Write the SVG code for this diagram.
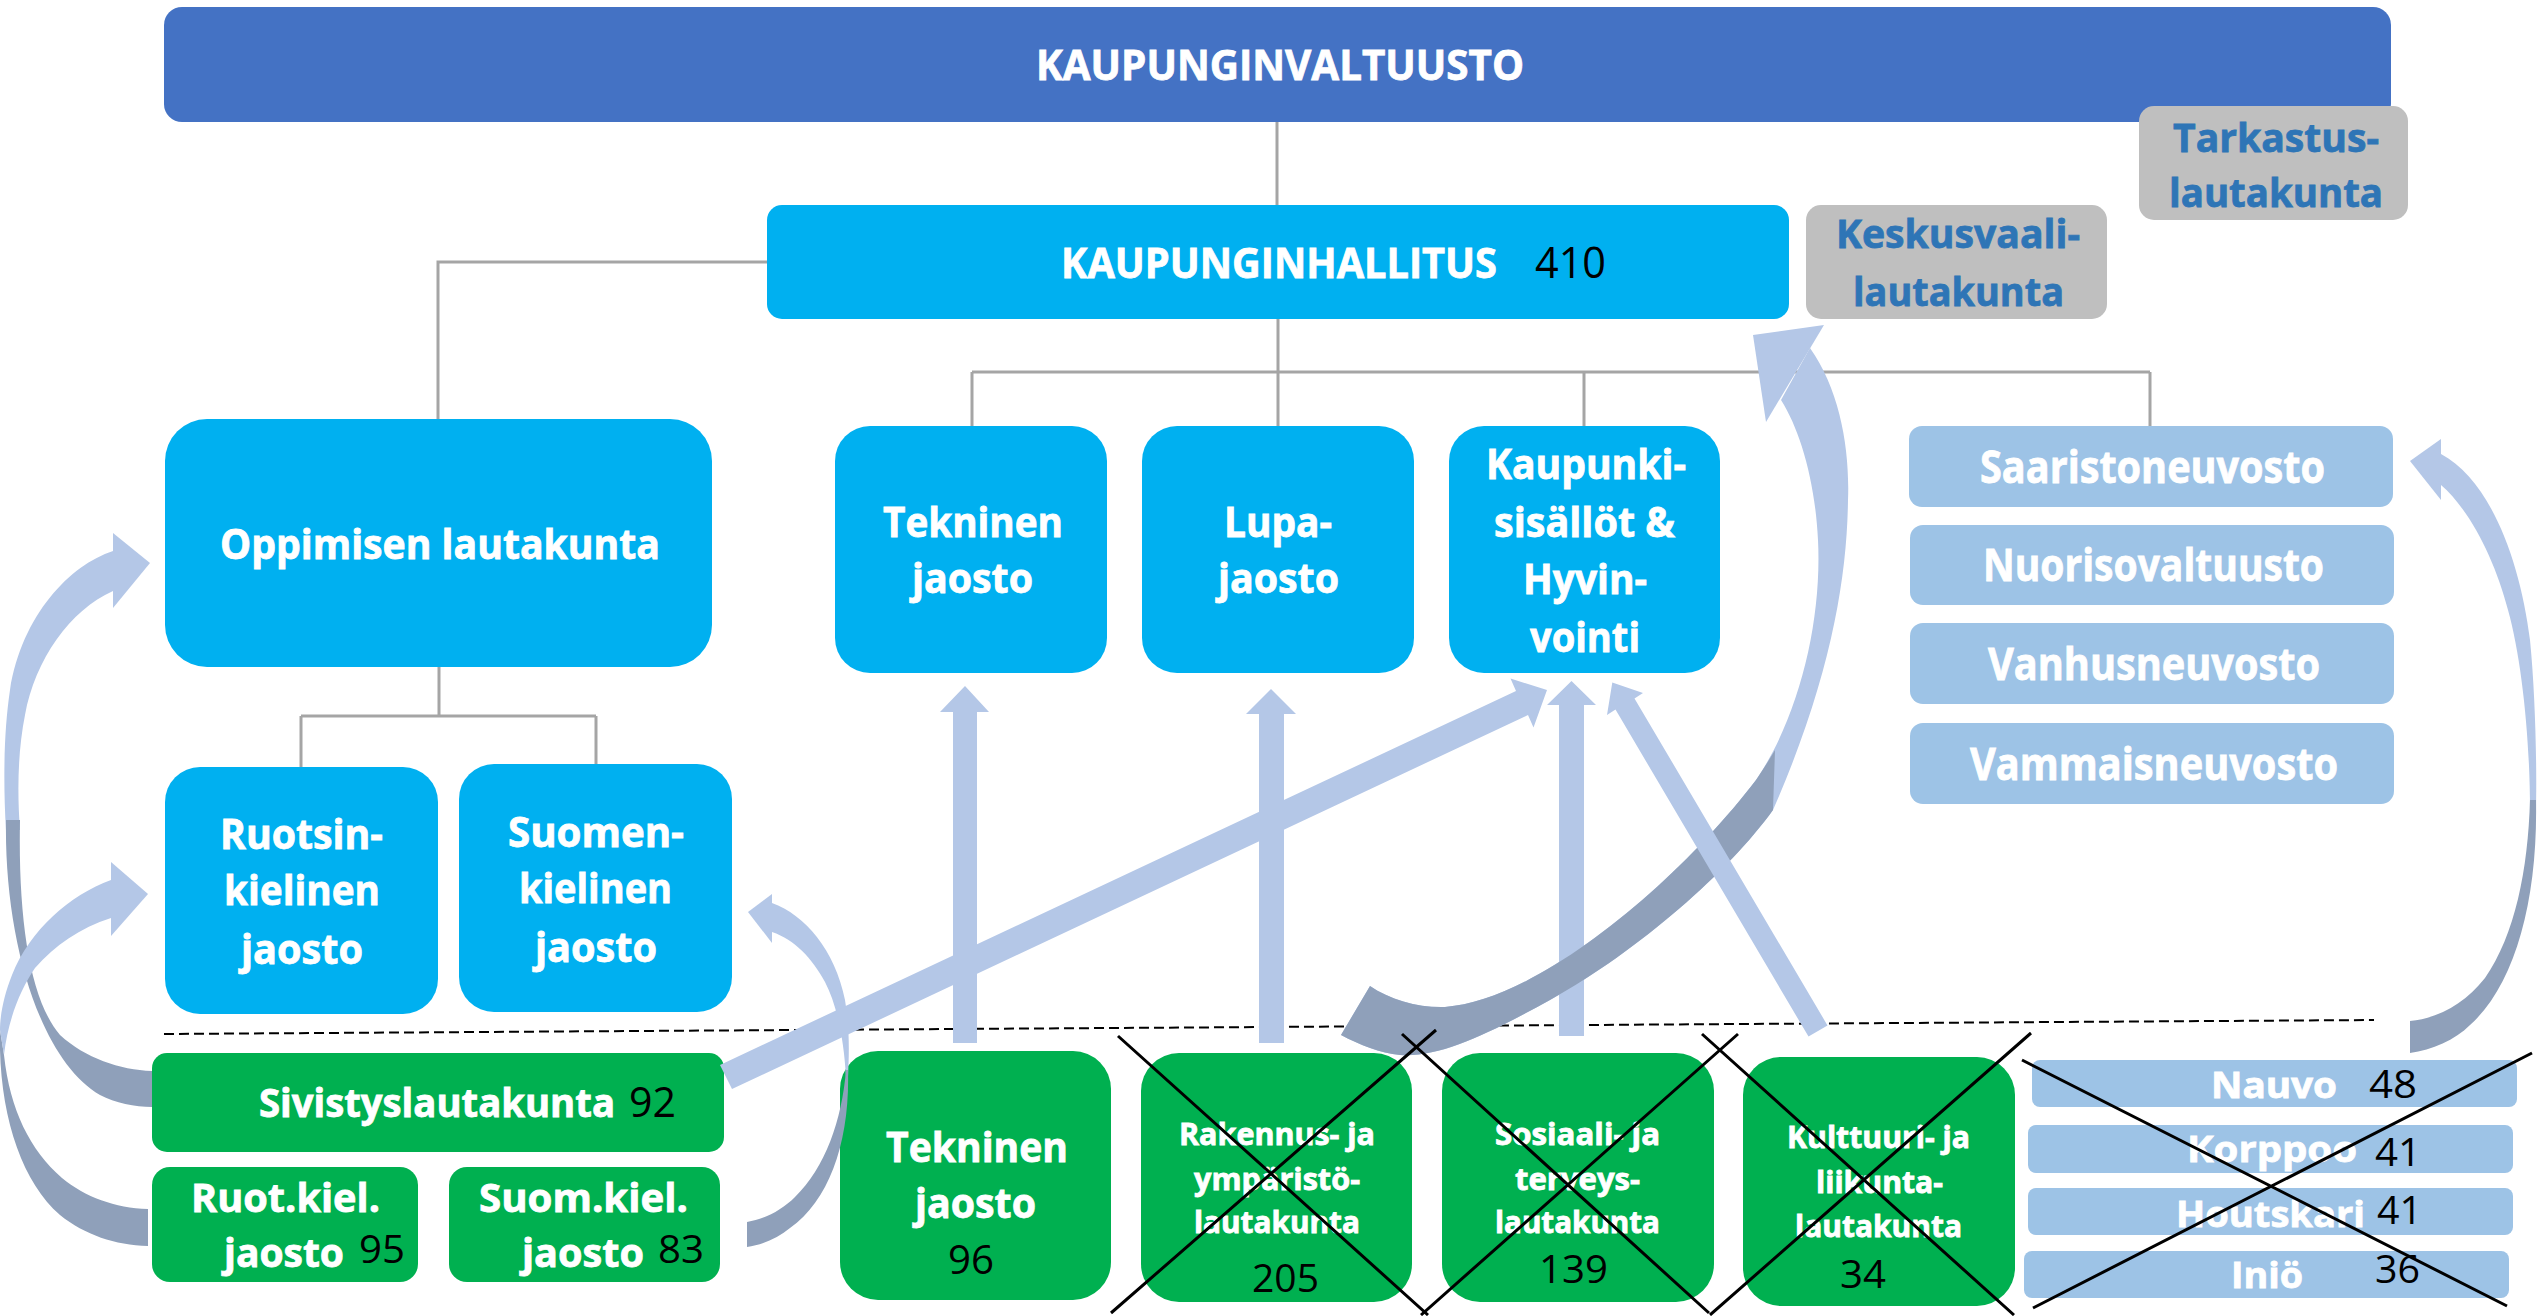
<svg xmlns="http://www.w3.org/2000/svg" width="2539" height="1316" viewBox="0 0 2539 1316">
<style>
.t{font-family:"Open Sans","Liberation Sans",sans-serif;font-weight:700;fill:#fff;stroke:#fff;stroke-width:0.8}
.n{font-family:"Open Sans","Liberation Sans",sans-serif;font-weight:400;fill:#000;stroke:none}
.g{fill:#2e75b6;stroke:#2e75b6}
.kv{fill:#4472c4}
.bl{fill:#00b0f0}
.gr{fill:#bfbfbf}
.lb{fill:#9dc3e6}
.gn{fill:#00b050}
.conn{stroke:#a5a5a5;stroke-width:3;fill:none}
.aL{fill:#b4c7e7}
.aD{fill:#8fa0ba}
.x{stroke:#000;stroke-width:3;fill:none}
.dash{stroke:#000;stroke-width:2;stroke-dasharray:10 5;fill:none}
</style>
<rect width="2539" height="1316" fill="#fff"/>

<g id="connectors-lines">
<path class="conn" d="M1277,122 V205"/>
<path class="conn" d="M767,262 H438 V419"/>
<path class="conn" d="M1278,319 V372 M972,372 H2150 M972,372 V426 M1278,372 V426 M1584,372 V426 M2150,372 V426"/>
<path class="conn" d="M439,667 V716 M301,716 H596 M301,716 V767 M596,716 V764"/>
<path class="dash" d="M164,1034 L2374,1020"/>
</g>

<g id="n-kaupunginvaltuusto"><rect class="kv" x="164" y="7" width="2227" height="115" rx="18"/>
<text class="t" x="1036" y="80" font-size="42" textLength="488" lengthAdjust="spacingAndGlyphs">KAUPUNGINVALTUUSTO</text></g>

<g id="n-tarkastus"><rect class="gr" x="2139" y="106" width="269" height="114" rx="15"/>
<text class="t g" x="2173" y="152" font-size="40" textLength="206" lengthAdjust="spacingAndGlyphs">Tarkastus-</text>
<text class="t g" x="2169" y="207" font-size="40" textLength="214" lengthAdjust="spacingAndGlyphs">lautakunta</text></g>

<g id="n-kaupunginhallitus"><rect class="bl" x="767" y="205" width="1022" height="114" rx="15"/>
<text class="t" x="1061" y="278" font-size="42" textLength="436" lengthAdjust="spacingAndGlyphs">KAUPUNGINHALLITUS</text>
<text class="n" x="1535" y="278" font-size="43" textLength="71" lengthAdjust="spacingAndGlyphs">410</text></g>

<g id="n-keskusvaali"><rect class="gr" x="1806" y="205" width="301" height="114" rx="15"/>
<text class="t g" x="1836" y="248" font-size="40" textLength="244" lengthAdjust="spacingAndGlyphs">Keskusvaali-</text>
<text class="t g" x="1853" y="306" font-size="40" textLength="211" lengthAdjust="spacingAndGlyphs">lautakunta</text></g>

<g id="n-oppimisen"><rect class="bl" x="165" y="419" width="547" height="248" rx="42"/>
<text class="t" x="220" y="559" font-size="41" textLength="440" lengthAdjust="spacingAndGlyphs">Oppimisen lautakunta</text></g>

<g id="n-ruotsin"><rect class="bl" x="165" y="767" width="273" height="247" rx="35"/>
<text class="t" x="220" y="849" font-size="41" textLength="163" lengthAdjust="spacingAndGlyphs">Ruotsin-</text>
<text class="t" x="224" y="905" font-size="41" textLength="156" lengthAdjust="spacingAndGlyphs">kielinen</text>
<text class="t" x="241" y="964" font-size="41" textLength="122" lengthAdjust="spacingAndGlyphs">jaosto</text></g>

<g id="n-suomen"><rect class="bl" x="459" y="764" width="273" height="248" rx="35"/>
<text class="t" x="508" y="847" font-size="41" textLength="176" lengthAdjust="spacingAndGlyphs">Suomen-</text>
<text class="t" x="519" y="903" font-size="41" textLength="153" lengthAdjust="spacingAndGlyphs">kielinen</text>
<text class="t" x="535" y="962" font-size="41" textLength="122" lengthAdjust="spacingAndGlyphs">jaosto</text></g>

<g id="n-tekninen-jaosto"><rect class="bl" x="835" y="426" width="272" height="247" rx="35"/>
<text class="t" x="883" y="537" font-size="41" textLength="180" lengthAdjust="spacingAndGlyphs">Tekninen</text>
<text class="t" x="912" y="593" font-size="41" textLength="121" lengthAdjust="spacingAndGlyphs">jaosto</text></g>

<g id="n-lupajaosto"><rect class="bl" x="1142" y="426" width="272" height="247" rx="35"/>
<text class="t" x="1224" y="537" font-size="41" textLength="108" lengthAdjust="spacingAndGlyphs">Lupa-</text>
<text class="t" x="1218" y="593" font-size="41" textLength="121" lengthAdjust="spacingAndGlyphs">jaosto</text></g>

<g id="n-kaupunkisisallot"><rect class="bl" x="1449" y="426" width="271" height="247" rx="35"/>
<text class="t" x="1486" y="479" font-size="41" textLength="200" lengthAdjust="spacingAndGlyphs">Kaupunki-</text>
<text class="t" x="1494" y="537" font-size="41" textLength="181" lengthAdjust="spacingAndGlyphs">sisällöt &amp;</text>
<text class="t" x="1523" y="594" font-size="41" textLength="124" lengthAdjust="spacingAndGlyphs">Hyvin-</text>
<text class="t" x="1530" y="652" font-size="41" textLength="110" lengthAdjust="spacingAndGlyphs">vointi</text></g>

<g id="n-saaristoneuvosto"><rect class="lb" x="1909" y="426" width="484" height="81" rx="13"/>
<text class="t" x="1980" y="483" font-size="44" textLength="345" lengthAdjust="spacingAndGlyphs">Saaristoneuvosto</text></g>
<g id="n-nuorisovaltuusto"><rect class="lb" x="1910" y="525" width="484" height="80" rx="13"/>
<text class="t" x="1983" y="581" font-size="44" textLength="341" lengthAdjust="spacingAndGlyphs">Nuorisovaltuusto</text></g>
<g id="n-vanhusneuvosto"><rect class="lb" x="1910" y="623" width="484" height="81" rx="13"/>
<text class="t" x="1988" y="680" font-size="44" textLength="332" lengthAdjust="spacingAndGlyphs">Vanhusneuvosto</text></g>
<g id="n-vammaisneuvosto"><rect class="lb" x="1910" y="723" width="484" height="81" rx="13"/>
<text class="t" x="1970" y="780" font-size="44" textLength="368" lengthAdjust="spacingAndGlyphs">Vammaisneuvosto</text></g>

<g id="n-sivistyslautakunta"><rect class="gn" x="152" y="1053" width="572" height="99" rx="15"/>
<text class="t" x="259" y="1117" font-size="39" textLength="356" lengthAdjust="spacingAndGlyphs">Sivistyslautakunta</text>
<text class="n" x="629" y="1117" font-size="42" textLength="47" lengthAdjust="spacingAndGlyphs">92</text></g>

<g id="n-ruot-kiel"><rect class="gn" x="152" y="1167" width="266" height="115" rx="18"/>
<text class="t" x="191" y="1212" font-size="40" textLength="189" lengthAdjust="spacingAndGlyphs">Ruot.kiel.</text>
<text class="t" x="224" y="1267" font-size="40" textLength="120" lengthAdjust="spacingAndGlyphs">jaosto</text>
<text class="n" x="359" y="1263" font-size="39" textLength="46" lengthAdjust="spacingAndGlyphs">95</text></g>

<g id="n-suom-kiel"><rect class="gn" x="449" y="1167" width="271" height="115" rx="18"/>
<text class="t" x="479" y="1212" font-size="40" textLength="209" lengthAdjust="spacingAndGlyphs">Suom.kiel.</text>
<text class="t" x="522" y="1267" font-size="40" textLength="122" lengthAdjust="spacingAndGlyphs">jaosto</text>
<text class="n" x="658" y="1263" font-size="39" textLength="46" lengthAdjust="spacingAndGlyphs">83</text></g>

<g id="n-tekninen-green"><rect class="gn" x="840" y="1051" width="271" height="249" rx="38"/>
<text class="t" x="886" y="1162" font-size="41" textLength="182" lengthAdjust="spacingAndGlyphs">Tekninen</text>
<text class="t" x="915" y="1218" font-size="41" textLength="121" lengthAdjust="spacingAndGlyphs">jaosto</text>
<text class="n" x="948" y="1274" font-size="40" textLength="46" lengthAdjust="spacingAndGlyphs">96</text></g>

<g id="n-rakennus"><rect class="gn" x="1141" y="1053" width="271" height="249" rx="38"/>
<text class="t" x="1179" y="1145" font-size="30" textLength="196" lengthAdjust="spacingAndGlyphs">Rakennus- ja</text>
<text class="t" x="1194" y="1190" font-size="30" textLength="166" lengthAdjust="spacingAndGlyphs">ympäristö-</text>
<text class="t" x="1194" y="1233" font-size="30" textLength="166" lengthAdjust="spacingAndGlyphs">lautakunta</text>
<text class="n" x="1252" y="1292" font-size="39" textLength="67" lengthAdjust="spacingAndGlyphs">205</text></g>

<g id="n-sosiaali"><rect class="gn" x="1442" y="1053" width="272" height="249" rx="38"/>
<text class="t" x="1495" y="1145" font-size="30" textLength="165" lengthAdjust="spacingAndGlyphs">Sosiaali- ja</text>
<text class="t" x="1515" y="1190" font-size="30" textLength="125" lengthAdjust="spacingAndGlyphs">terveys-</text>
<text class="t" x="1495" y="1233" font-size="30" textLength="165" lengthAdjust="spacingAndGlyphs">lautakunta</text>
<text class="n" x="1539" y="1283" font-size="39" textLength="69" lengthAdjust="spacingAndGlyphs">139</text></g>

<g id="n-kulttuuri"><rect class="gn" x="1743" y="1057" width="272" height="249" rx="38"/>
<text class="t" x="1787" y="1148" font-size="30" textLength="183" lengthAdjust="spacingAndGlyphs">Kulttuuri- ja</text>
<text class="t" x="1816" y="1193" font-size="30" textLength="127" lengthAdjust="spacingAndGlyphs">liikunta-</text>
<text class="t" x="1795" y="1237" font-size="30" textLength="167" lengthAdjust="spacingAndGlyphs">lautakunta</text>
<text class="n" x="1840" y="1288" font-size="39" textLength="46" lengthAdjust="spacingAndGlyphs">34</text></g>

<g id="n-nauvo"><rect class="lb" x="2032" y="1060" width="485" height="47" rx="8"/>
<text class="t" x="2211" y="1098" font-size="36" textLength="126" lengthAdjust="spacingAndGlyphs">Nauvo</text>
<text class="n" x="2369" y="1098" font-size="39" textLength="48" lengthAdjust="spacingAndGlyphs">48</text></g>
<g id="n-korppoo"><rect class="lb" x="2028" y="1125" width="485" height="48" rx="8"/>
<text class="t" x="2187" y="1162" font-size="36" textLength="170" lengthAdjust="spacingAndGlyphs">Korppoo</text>
<text class="n" x="2375" y="1166" font-size="39" textLength="46" lengthAdjust="spacingAndGlyphs">41</text></g>
<g id="n-houtskari"><rect class="lb" x="2028" y="1188" width="485" height="47" rx="8"/>
<text class="t" x="2176" y="1227" font-size="36" textLength="189" lengthAdjust="spacingAndGlyphs">Houtskari</text>
<text class="n" x="2377" y="1224" font-size="39" textLength="45" lengthAdjust="spacingAndGlyphs">41</text></g>
<g id="n-inio"><rect class="lb" x="2024" y="1251" width="485" height="47" rx="8"/>
<text class="t" x="2231" y="1288" font-size="36" textLength="72" lengthAdjust="spacingAndGlyphs">Iniö</text>
<text class="n" x="2375" y="1283" font-size="39" textLength="45" lengthAdjust="spacingAndGlyphs">36</text></g>

<g id="connectors-arrows">
<!-- Sivistys -> Oppimisen -->
<path class="aL" d="M113,551 C70,565 22,615 10,690 C4,730 3,780 6,830 L20,830 C17,790 18,750 25,715 C35,660 70,610 113,591 Z"/>
<path class="aD" d="M6,820 C4,940 40,1060 100,1095 C115,1103 135,1107 152,1107 L152,1071 C120,1070 85,1058 60,1035 C30,1000 18,920 20,820 Z"/>
<path class="aL" d="M150,563 L113,533 L113,608 Z"/>
<!-- Ruot.kiel -> Ruotsin -->
<path class="aD" d="M0,1030 C-2,1110 20,1180 60,1215 C85,1235 115,1245 148,1246 L148,1209 C115,1208 85,1197 62,1178 C30,1150 10,1110 4,1055 Z"/>
<path class="aL" d="M111,880 C70,895 30,930 12,975 C4,995 0,1015 0,1030 L4,1055 C8,1020 20,990 35,968 C55,945 80,928 111,918 Z"/>
<path class="aL" d="M148,894 L111,862 L111,936 Z"/>
<!-- Suom.kiel -> Suomen -->
<path class="aL" d="M772,903 C805,915 835,950 845,1000 C850,1030 849,1055 848,1077 L846,1077 C844,1040 837,1005 825,982 C812,958 795,940 772,932 Z"/>
<path class="aD" d="M848,1070 C850,1140 830,1200 790,1228 C778,1238 762,1245 747,1247 L747,1222 C765,1219 782,1210 795,1197 C825,1168 842,1120 846,1070 Z"/>
<path class="aL" d="M748,912 L772,894 L772,943 Z"/>
<!-- Sivistys -> Kaupunkisisallot -->
<path class="aL" d="M720,1065 L1516,691 L1510.5,678.6 L1547,690 L1533.5,727.4 L1528,715 L732,1089 Z"/>
<!-- vertical arrows -->
<path class="aL" d="M953,1043 V712 H940 L965,686 L989,712 H977 V1043 Z"/>
<path class="aL" d="M1259,1043 V714 H1246 L1271,689 L1296,714 H1284 V1043 Z"/>
<path class="aL" d="M1559,1036 V705 H1547 L1571.5,681 L1596,705 H1584 V1036 Z"/>
<!-- big curve Rakennus -> Kaupunginhallitus -->
<path class="aL" d="M1810,348 C1840,390 1850,450 1848,500 C1847,580 1830,680 1773,810 C1730,870 1640,950 1550,1000 C1490,1033 1440,1058 1400,1055 C1380,1053 1360,1045 1341,1035 L1370,986 C1390,1000 1420,1008 1445,1007 C1540,1000 1680,880 1756,780 C1800,715 1822,620 1818,540 C1815,480 1800,430 1781,400 Z"/>
<path class="aD" d="M1775,750 C1768,762 1762,771 1756,780 C1680,880 1540,1000 1445,1007 C1420,1008 1390,1000 1370,986 L1341,1035 C1360,1045 1380,1053 1400,1055 C1440,1058 1490,1033 1550,1000 C1640,950 1730,870 1773,810 Z"/>
<path class="aL" d="M1753,335 L1824,325 L1766,422 Z"/>
<!-- Kulttuuri -> Kaupunkisisallot -->
<path class="aL" d="M1808.5,1036.6 L1615.5,709.6 L1607,715 L1612.3,682.5 L1643,693 L1634.5,698.4 L1827.5,1025.4 Z"/>
<!-- Nauvo -> Saaristoneuvosto -->
<path class="aL" d="M2441,454 C2490,480 2520,560 2530,640 C2535,690 2537,760 2536,810 L2530,810 C2530,740 2522,660 2508,610 C2495,560 2470,510 2441,485 Z"/>
<path class="aD" d="M2536,800 C2538,900 2515,985 2470,1025 C2455,1040 2432,1050 2410,1053 L2410,1021 C2440,1018 2465,1003 2485,978 C2515,935 2528,870 2530,800 Z"/>
<path class="aL" d="M2410,461 L2441,439 L2441,500 Z"/>
</g>

<g id="strikes">
<path class="x" d="M1118,1036 L1428,1315 M1436,1030 L1111,1313"/>
<path class="x" d="M1402,1034 L1709,1313 M1738,1034 L1421,1315"/>
<path class="x" d="M1702,1034 L2014,1315 M2031,1033 L1710,1315"/>
<path class="x" d="M2022,1060 L2507,1306 M2532,1053 L2033,1308"/>
</g>
</svg>
